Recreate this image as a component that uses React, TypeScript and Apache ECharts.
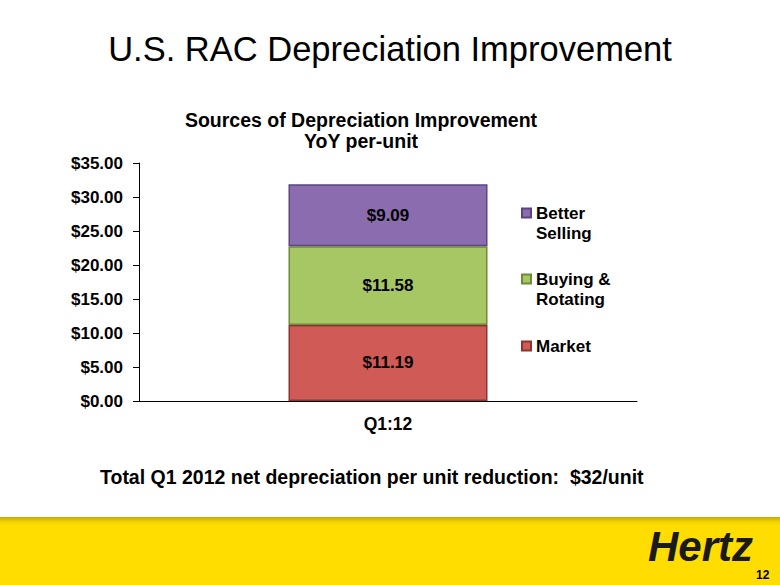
import React, { useEffect, useRef } from "react";
import * as echarts from "echarts";

const categories = ["Q1:12"];
const market = [11.19];
const buyingRotating = [11.58];
const betterSelling = [9.09];
const yTicks = { min: 0, max: 35, interval: 5 };

const FONT = "Liberation Sans, Arial, Helvetica, sans-serif";

export default function App() {
  const ref = useRef<HTMLDivElement>(null);
  useEffect(() => {
    document.body.style.margin = "0";
    const chart = echarts.init(ref.current!, null, { renderer: "svg" });
    const label = {
      show: true,
      position: "inside",
      color: "#000",
      fontWeight: "bold",
      fontSize: 17,
      fontFamily: FONT,
      formatter: (p: any) => "$" + Number(p.value).toFixed(2),
    };
    const legendText = { color: "#000", fontWeight: "bold", fontSize: 17, fontFamily: FONT, lineHeight: 20 };
    const legendBase = {
      orient: "vertical",
      left: 521,
      padding: 0,
      itemWidth: 9,
      itemHeight: 9,
      icon: "rect",
      textStyle: legendText,
      selectedMode: false,
    };
    const option: any = {
      animation: false,
      backgroundColor: "#fff",
      textStyle: { fontFamily: FONT },
      title: [
        {
          text: "U.S. RAC Depreciation Improvement",
          left: "center",
          top: 26,
          textStyle: { fontSize: 34.5, fontWeight: "normal", color: "#000", fontFamily: FONT },
        },
        {
          text: "Sources of Depreciation Improvement\nYoY per-unit",
          left: 356,
          textAlign: "center",
          top: 104,
          textStyle: { fontSize: 19.5, fontWeight: "bold", color: "#000", fontFamily: FONT, lineHeight: 21 },
        },
      ],
      grid: { left: 139, right: 143, top: 163, bottom: 184, containLabel: false },
      xAxis: {
        type: "category",
        data: categories,
        axisLine: { lineStyle: { color: "#000", width: 1 } },
        axisTick: { show: false },
        axisLabel: { color: "#000", fontWeight: "bold", fontSize: 17.5, fontFamily: FONT, margin: 14 },
      },
      yAxis: {
        type: "value",
        min: yTicks.min,
        max: yTicks.max,
        interval: yTicks.interval,
        splitLine: { show: false },
        axisLine: { show: true, lineStyle: { color: "#000", width: 1 } },
        axisTick: { show: true, length: 6, lineStyle: { color: "#000" } },
        axisLabel: {
          color: "#000",
          fontWeight: "bold",
          fontSize: 17,
          fontFamily: FONT,
          margin: 16,
          formatter: (v: number) => "$" + v.toFixed(2),
        },
      },
      legend: [
        {
          ...legendBase,
          data: ["Better Selling"],
          formatter: () => " \nBetter\nSelling",
          top: 183,
        },
        {
          ...legendBase,
          data: ["Buying & Rotating"],
          formatter: () => " \nBuying &\nRotating",
          top: 249,
        },
        {
          ...legendBase,
          data: ["Market"],
          top: 336,
        },
      ],
      series: [
        {
          name: "Market",
          type: "bar",
          stack: "total",
          barWidth: 199,
          data: market,
          label,
          itemStyle: { color: "#D05A55", borderColor: "#8E3430", borderWidth: 1.5 },
        },
        {
          name: "Buying & Rotating",
          type: "bar",
          stack: "total",
          barWidth: 199,
          data: buyingRotating,
          label,
          itemStyle: { color: "#A6C763", borderColor: "#6F8A3A", borderWidth: 1.5 },
        },
        {
          name: "Better Selling",
          type: "bar",
          stack: "total",
          barWidth: 199,
          data: betterSelling,
          label,
          itemStyle: { color: "#8B6DAF", borderColor: "#5B4480", borderWidth: 1.5 },
        },
      ],
      graphic: [
        {
          type: "text",
          left: 100,
          top: 467,
          style: {
            text: "Total Q1 2012 net depreciation per unit reduction:  $32/unit",
            fill: "#000",
            font: `bold 19.5px ${FONT}`,
          },
        },
        {
          type: "rect",
          shape: { x: 0, y: 517, width: 780, height: 68 },
          style: {
            fill: new echarts.graphic.LinearGradient(0, 0, 0, 1, [
              { offset: 0, color: "#C9A800" },
              { offset: 0.07, color: "#F2D200" },
              { offset: 0.12, color: "#FFDD00" },
              { offset: 1, color: "#FFDD00" },
            ]),
          },
          z: -1,
        },
        {
          type: "text",
          left: 648,
          top: 525,
          style: {
            text: "Hertz",
            fill: "#1a1a1a",
            font: `italic bold 42px ${FONT}`,
          },
        },
        {
          type: "text",
          left: 756,
          top: 569,
          style: { text: "12", fill: "#000", font: `bold 12px ${FONT}` },
        },
      ],
    };
    chart.setOption(option);
    return () => chart.dispose();
  }, []);
  return <div ref={ref} style={{ width: 780, height: 585 }} />;
}
